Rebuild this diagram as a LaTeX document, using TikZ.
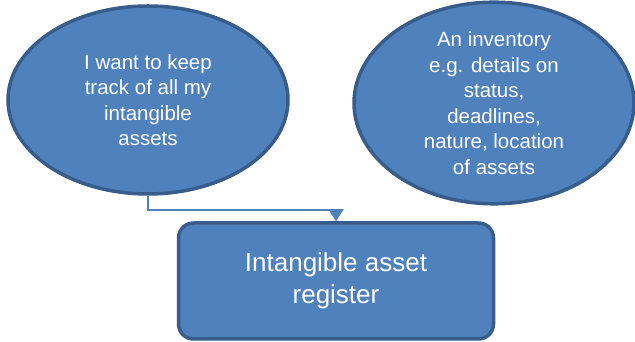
\documentclass[tikz,border=0pt]{standalone}
\usepackage{fontspec}
\setmainfont{Liberation Sans}
\usepackage{xcolor}
\usetikzlibrary{arrows.meta, positioning, shapes.geometric}

\definecolor{boxfill}{HTML}{4F81BD}
\definecolor{boxline}{HTML}{385D8A}

\begin{document}
\begin{tikzpicture}[x=1pt, y=1pt,
  bubble/.style={ellipse, draw=boxline, fill=boxfill, line width=3.5pt,
    minimum width=280pt, minimum height=188pt, inner sep=0pt,
    text=white, align=center, font=\fontsize{20.5}{25.5}\selectfont},
  regbox/.style={draw=boxline, fill=boxfill, line width=3.5pt, rounded corners=15pt,
    minimum width=315pt, minimum height=116pt, inner sep=0pt,
    text=white, align=center, font=\fontsize{26}{32}\selectfont},
  conn/.style={draw=boxfill, line width=2pt, -{Triangle[length=12pt, width=15pt]}}]
\useasboundingbox (0,0) rectangle (635,342);

\node[bubble] (want) at (148,242) {I want to keep\\track of all my\\intangible\\assets};
\node[bubble] (inventory) at (494,239) {An inventory\\e.g. details on\\status,\\deadlines,\\nature, location\\of assets};
\node[regbox] (register) at (336,61) {Intangible asset\\register};

\draw[conn] (want.south) -- ++(0,-14) -| (register.north);
\end{tikzpicture}
\end{document}
